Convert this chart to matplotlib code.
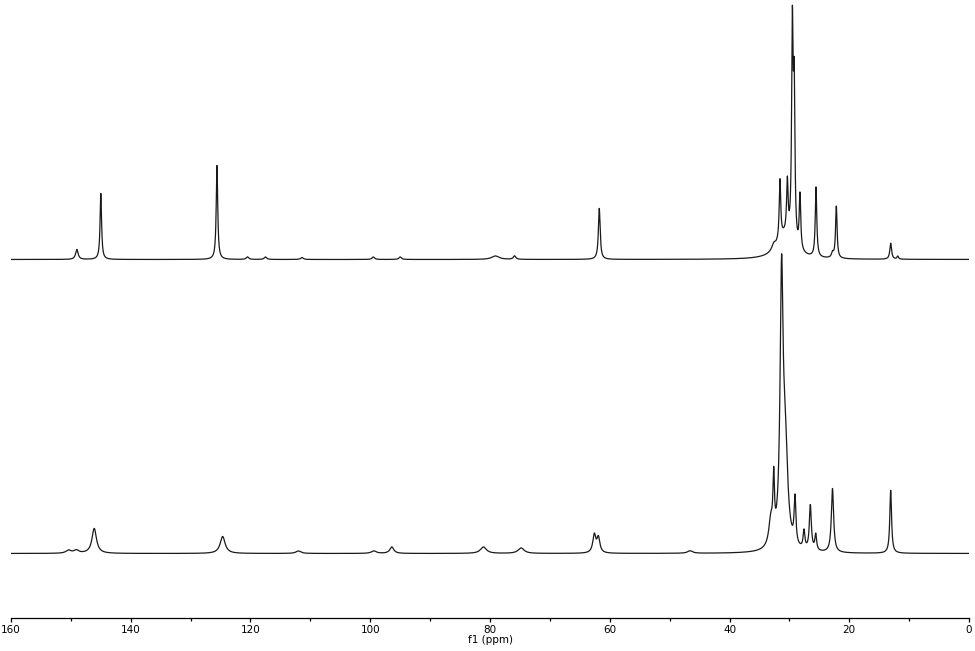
import numpy as np
import matplotlib
matplotlib.use("Agg")
import matplotlib.pyplot as plt
from matplotlib.ticker import MultipleLocator

# ---- data: peak lists (ppm, height, FWHM in ppm) ----
top_ppm = [149.0, 145.0, 125.6, 120.5, 117.5, 111.4, 99.5, 95.0, 79.1, 75.9,
           61.75, 32.6, 30.8, 31.57, 30.34, 29.5, 29.2, 28.23, 25.55, 22.8,
           22.16, 13.08, 11.9]
top_height = [10, 66, 94, 2.5, 2.5, 2, 2.5, 2.5, 3.5, 3.5,
              51, 6, 22, 60, 53, 209, 146, 55, 70, 5,
              52, 16, 3]
top_width = [0.5, 0.3, 0.3, 0.5, 0.5, 0.5, 0.5, 0.5, 1.5, 0.5,
             0.35, 0.8, 3.0, 0.3, 0.3, 0.3, 0.3, 0.3, 0.3, 0.4,
             0.3, 0.35, 0.3]

bot_ppm = [150.4, 149.1, 146.1, 124.65, 112.0, 99.4, 96.4, 81.1, 74.8,
           62.58, 61.9, 46.6, 33.1, 32.62, 31.3, 30.7, 29.06, 27.56,
           26.5, 25.6, 22.8, 13.08]
bot_height = [3, 3, 25, 17, 2.5, 2.5, 6.5, 6.5, 5.5,
              18, 15, 2.5, 25, 58, 258, 95, 46, 18,
              45, 16, 64, 63]
bot_width = [1.0, 1.0, 0.9, 1.0, 1.0, 1.0, 0.8, 1.2, 1.2,
             0.6, 0.6, 1.0, 0.8, 0.3, 0.6, 1.0, 0.35, 0.35,
             0.4, 0.35, 0.45, 0.35]

x_ticks = [160, 140, 120, 100, 80, 60, 40, 20, 0]

ppm = np.linspace(162, -2, 16401)


def spectrum(pos, hts, wids):
    y = np.zeros_like(ppm)
    for p, h, w in zip(pos, hts, wids):
        g = w / 2.0
        y += h / (1.0 + ((ppm - p) / g) ** 2)
    return y


top = spectrum(top_ppm, top_height, top_width)
bot = spectrum(bot_ppm, bot_height, bot_width)

fig = plt.figure(figsize=(9.75, 6.51), dpi=100)
ax = fig.add_axes([11 / 975, 1 - 618 / 651, 958 / 975, 618 / 651])

top_offset = 358.5
bot_offset = 64.5
ax.plot(ppm, top + top_offset, color="#1a1a1a", lw=0.9)
ax.plot(ppm, bot + bot_offset, color="#1a1a1a", lw=0.9)

ax.set_xlim(160, 0)
ax.set_ylim(0, 618)
for s in ["left", "right", "top"]:
    ax.spines[s].set_visible(False)
ax.spines["bottom"].set_linewidth(0.9)
ax.set_yticks([])
ax.set_xticks(x_ticks)
ax.xaxis.set_minor_locator(MultipleLocator(10))
ax.tick_params(axis="x", which="major", length=3, width=0.9, pad=2,
               labelsize=7.5)
ax.tick_params(axis="x", which="minor", length=2.5, width=0.9)
ax.set_xlabel("f1 (ppm)", fontsize=7.5, labelpad=0)

fig.savefig("out.png", dpi=100)
